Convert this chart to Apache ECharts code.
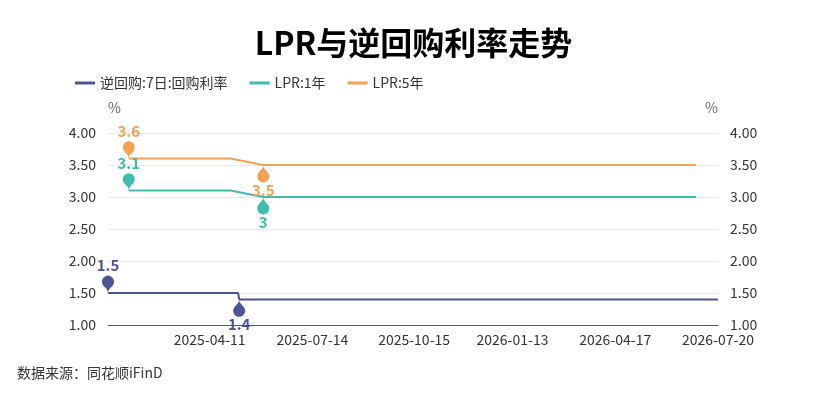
<!DOCTYPE html>
<html>
<head>
<meta charset="utf-8">
<script src="https://cdn.jsdelivr.net/npm/echarts@6/dist/echarts.min.js"></script>
<style>
  html, body { margin: 0; padding: 0; background: #fff; }
  #main { width: 827px; height: 400px; }
</style>
</head>
<body>
<div id="main"></div>
<script>
// 逆回购 7日 利率（变动点）
let repoDates = ['2025-01-08', '2025-05-07', '2025-05-08', '2026-07-20'];
let repoValues = [1.5, 1.5, 1.4, 1.4];

// LPR 月度数据（月末）
let lprDates = [
    '2025-01-27', '2025-02-28', '2025-03-31', '2025-04-30', '2025-05-30', '2025-06-30',
    '2025-07-31', '2025-08-29', '2025-09-30', '2025-10-31', '2025-11-28', '2025-12-31',
    '2026-01-30', '2026-02-27', '2026-03-31', '2026-04-30', '2026-05-29', '2026-06-30'
];
let lpr1y = [3.1, 3.1, 3.1, 3.1, 3.0, 3.0, 3.0, 3.0, 3.0, 3.0, 3.0, 3.0, 3.0, 3.0, 3.0, 3.0, 3.0, 3.0];
let lpr5y = [3.6, 3.6, 3.6, 3.6, 3.5, 3.5, 3.5, 3.5, 3.5, 3.5, 3.5, 3.5, 3.5, 3.5, 3.5, 3.5, 3.5, 3.5];

let xLabels = ['2025-04-11', '2025-07-14', '2025-10-15', '2026-01-13', '2026-04-17', '2026-07-20'];
let xStart = '2025-01-08';
let xEnd = '2026-07-20';

let colors = ['#4b5594', '#3cbdad', '#f4a152'];
let fontFamily = '"Noto Sans CJK SC", "Noto Sans", sans-serif';

function ts(s) {
    return new Date(s + 'T00:00:00').getTime();
}

function pad(n) {
    return n < 10 ? '0' + n : '' + n;
}

function fmtDate(v) {
    let d = new Date(v);
    return d.getFullYear() + '-' + pad(d.getMonth() + 1) + '-' + pad(d.getDate());
}

function pairs(dates, values) {
    return dates.map((d, i) => [ts(d), values[i]]);
}

// 最大值针头朝上，最小值针头朝下
function pinMarks(color) {
    return {
        symbol: 'pin',
        symbolSize: 20,
        itemStyle: { color: color },
        label: {
            color: color,
            fontSize: 15,
            fontWeight: 'bold',
            fontFamily: fontFamily,
            position: 'inside',
            offset: [0, -17]
        },
        data: [
            { type: 'max' },
            { type: 'min', symbolRotate: 180, label: { offset: [0, 18] } }
        ]
    };
}

let chartDom = document.getElementById('main');
let myChart = echarts.init(chartDom);

let option = {
    backgroundColor: '#fff',
    animation: false,
    color: colors,
    textStyle: { fontFamily: fontFamily },
    title: [
        {
            text: 'LPR与逆回购利率走势',
            left: 'center',
            top: 22,
            textStyle: { fontSize: 32, fontWeight: 'bold', color: '#000', fontFamily: fontFamily }
        },
        {
            text: '数据来源：同花顺iFinD',
            left: 12,
            top: 361,
            textStyle: { fontSize: 14, fontWeight: 'normal', color: '#333', fontFamily: fontFamily }
        }
    ],
    legend: {
        left: 70,
        top: 71,
        icon: 'rect',
        itemWidth: 20,
        itemHeight: 3,
        itemGap: 22,
        itemStyle: { borderWidth: 0 },
        textStyle: { fontSize: 14, color: '#333' },
        data: ['逆回购:7日:回购利率', 'LPR:1年', 'LPR:5年']
    },
    grid: {
        left: 108,
        right: 109,
        top: 133,
        bottom: 75
    },
    xAxis: {
        type: 'value',
        min: ts(xStart),
        max: ts(xEnd),
        axisLine: { lineStyle: { color: colors[0], width: 1 } },
        axisTick: { show: false },
        splitLine: { show: false },
        axisLabel: {
            customValues: xLabels.map(ts),
            formatter: fmtDate,
            color: '#333',
            fontSize: 14,
            margin: 8,
            hideOverlap: false
        }
    },
    yAxis: [
        {
            type: 'value',
            min: 1,
            max: 4,
            interval: 0.5,
            name: '%',
            nameGap: 18,
            nameTextStyle: { color: '#666', fontSize: 14, align: 'left' },
            axisLine: { show: false },
            axisTick: { show: false },
            splitLine: { lineStyle: { color: '#e9e9f0' } },
            axisLabel: { color: '#333', fontSize: 14, margin: 12, formatter: v => v.toFixed(2) }
        },
        {
            type: 'value',
            min: 1,
            max: 4,
            interval: 0.5,
            name: '%',
            nameGap: 18,
            nameTextStyle: { color: '#666', fontSize: 14, align: 'right' },
            axisLine: { show: false },
            axisTick: { show: false },
            splitLine: { show: false },
            axisLabel: { color: '#333', fontSize: 14, margin: 12, formatter: v => v.toFixed(2) }
        }
    ],
    series: [
        {
            name: '逆回购:7日:回购利率',
            type: 'line',
            symbol: 'none',
            lineStyle: { width: 2, color: colors[0] },
            data: pairs(repoDates, repoValues),
            markPoint: pinMarks(colors[0])
        },
        {
            name: 'LPR:1年',
            type: 'line',
            symbol: 'none',
            lineStyle: { width: 2, color: colors[1] },
            data: pairs(lprDates, lpr1y),
            markPoint: pinMarks(colors[1])
        },
        {
            name: 'LPR:5年',
            type: 'line',
            symbol: 'none',
            lineStyle: { width: 2, color: colors[2] },
            data: pairs(lprDates, lpr5y),
            markPoint: pinMarks(colors[2])
        }
    ]
};

option && myChart.setOption(option);
</script>
</body>
</html>
